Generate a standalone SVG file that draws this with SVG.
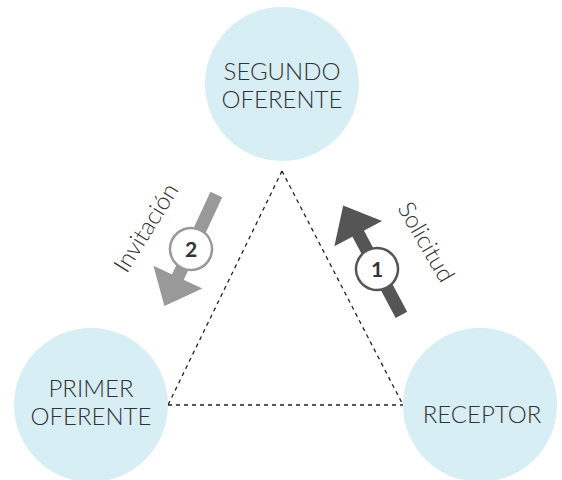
<svg xmlns="http://www.w3.org/2000/svg" width="562" height="480" viewBox="0 0 562 480">
<style>
.node{fill:#d8eef5}
.lbl{font-family:Lato,"Open Sans","DejaVu Sans",sans-serif;font-weight:300;font-size:24px;fill:#333;text-anchor:middle}
.dash{stroke:#222;stroke-width:1.3;stroke-dasharray:4 4;fill:none}
.num{font-family:Lato,"DejaVu Sans",sans-serif;font-weight:700;font-size:21px;fill:#333;text-anchor:middle}
</style>
<rect width="562" height="480" fill="#fff"/>
<g id="connectors">
<path class="dash" d="M282,171 L168,405 M282,171 L403,405 M168,405 L403,405"/>
</g>
<g id="segundo-oferente">
<circle class="node" cx="282" cy="84" r="77"/>
<text class="lbl" x="282" y="80">SEGUNDO</text>
<text class="lbl" x="282" y="108">OFERENTE</text>
</g>
<g id="primer-oferente">
<circle class="node" cx="91" cy="405" r="77"/>
<text class="lbl" x="91" y="397">PRIMER</text>
<text class="lbl" x="91" y="425">OFERENTE</text>
</g>
<g id="receptor">
<circle class="node" cx="480" cy="405" r="77"/>
<text class="lbl" x="482" y="423">RECEPTOR</text>
</g>
<g id="arrow-1" transform="translate(377,269) rotate(-28)">
<rect x="-6.5" y="-42" width="13" height="94" fill="#555"/>
<polygon points="0,-72 27,-40 -27,-40" fill="#555"/>
<circle cx="0" cy="0" r="21" fill="#fff" stroke="#555" stroke-width="2.5"/>
<text class="num" x="0" y="7.5" transform="rotate(28)">1</text>
</g>
<g id="arrow-2" transform="translate(191,249) rotate(25)">
<rect x="-6.5" y="-60" width="13" height="94" fill="#999"/>
<polygon points="0,63 27,31 -27,31" fill="#999"/>
<circle cx="0" cy="0" r="21" fill="#fff" stroke="#999" stroke-width="2.5"/>
<text class="num" x="0" y="7.5" transform="rotate(-25)">2</text>
</g>
<g id="label-invitacion">
<text class="lbl" x="0" y="0" transform="translate(153,232) rotate(-58)">Invitación</text>
</g>
<g id="label-solicitud">
<text class="lbl" x="0" y="0" transform="translate(419,246) rotate(60)">Solicitud</text>
</g>
</svg>
